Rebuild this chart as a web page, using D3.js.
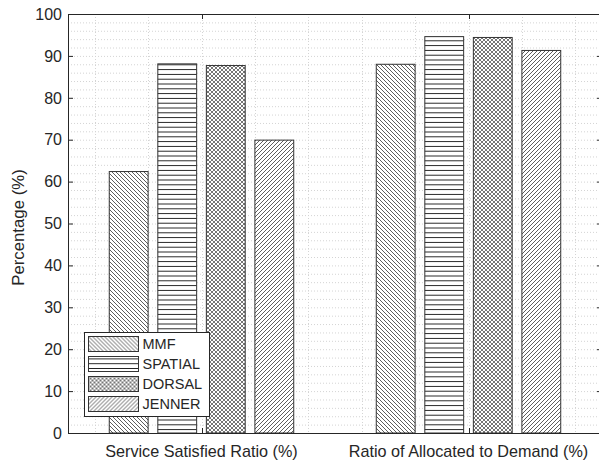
<!DOCTYPE html>
<html>
<head>
    <meta charset="utf-8">
    <title>Grouped Bar Chart</title>
    <script src="https://d3js.org/d3.v7.min.js"></script>
    <style>
        body { margin: 0; background: #fff; }
        text { font-family: "Liberation Sans", Arial, sans-serif; fill: #262626; }
    </style>
</head>
<body>
<svg width="599" height="463"></svg>
<script>
    const width = 599;
    const height = 463;

    // chart data
    const categories = ["Service Satisfied Ratio (%)", "Ratio of Allocated to Demand (%)"];
    const seriesNames = ["MMF", "SPATIAL", "DORSAL", "JENNER"];
    const mmfValues = [62.4, 88.0];
    const spatialValues = [88.1, 94.6];
    const dorsalValues = [87.7, 94.4];
    const jennerValues = [69.9, 91.3];
    const yTicks = [0, 10, 20, 30, 40, 50, 60, 70, 80, 90, 100];
    const yLabel = "Percentage (%)";

    const seriesValues = [mmfValues, spatialValues, dorsalValues, jennerValues];
    const patternIds = ["pMMF", "pSPATIAL", "pDORSAL", "pJENNER"];

    const svg = d3.select("svg");
    const margin = { left: 68, top: 14, right: 602, bottom: 433 };

    const x = d3.scaleLinear().domain([0.5, 2.5]).range([margin.left, margin.right]);
    const y = d3.scaleLinear().domain([0, 100]).range([margin.bottom, margin.top]);

    const defs = svg.append("defs");
    const clip = defs.append("clipPath").attr("id", "plotClip");
    clip.append("rect")
        .attr("x", margin.left).attr("y", margin.top)
        .attr("width", margin.right - margin.left).attr("height", margin.bottom - margin.top);

    const lineColor = "#333";

    // hatch patterns
    const pMMF = defs.append("pattern").attr("id", "pMMF")
        .attr("patternUnits", "userSpaceOnUse").attr("width", 4).attr("height", 4);
    pMMF.append("rect").attr("width", 4).attr("height", 4).attr("fill", "#fff");
    pMMF.append("path").attr("d", "M-1,-1 L5,5 M-1,3 L1,5 M3,-1 L5,1")
        .attr("stroke", lineColor).attr("stroke-width", 0.8);

    const pSpatial = defs.append("pattern").attr("id", "pSPATIAL")
        .attr("patternUnits", "userSpaceOnUse").attr("width", 4).attr("height", 4.8);
    pSpatial.append("rect").attr("width", 4).attr("height", 4.8).attr("fill", "#fff");
    pSpatial.append("path").attr("d", "M0,2.4 L4,2.4")
        .attr("stroke", "#222").attr("stroke-width", 1);

    const pDorsal = defs.append("pattern").attr("id", "pDORSAL")
        .attr("patternUnits", "userSpaceOnUse").attr("width", 4).attr("height", 4);
    pDorsal.append("rect").attr("width", 4).attr("height", 4).attr("fill", "#fff");
    pDorsal.append("path").attr("d", "M-1,-1 L5,5 M-1,5 L5,-1 M-1,3 L1,5 M3,-1 L5,1 M-1,1 L1,-1 M3,5 L5,3")
        .attr("stroke", "#2a2a2a").attr("stroke-width", 0.65);

    const pJenner = defs.append("pattern").attr("id", "pJENNER")
        .attr("patternUnits", "userSpaceOnUse").attr("width", 4).attr("height", 4);
    pJenner.append("rect").attr("width", 4).attr("height", 4).attr("fill", "#fff");
    pJenner.append("path").attr("d", "M-1,5 L5,-1 M-1,1 L1,-1 M3,5 L5,3")
        .attr("stroke", lineColor).attr("stroke-width", 0.8);

    // grid (major and minor, dotted)
    const grid = svg.append("g").attr("clip-path", "url(#plotClip)");
    const yGrid = d3.range(0, 101, 2);
    const xGrid = d3.range(0.6, 2.5, 0.2);
    grid.selectAll("line.gy").data(yGrid).join("line")
        .attr("class", "gy")
        .attr("x1", margin.left).attr("x2", margin.right)
        .attr("y1", d => y(d) + 0.5).attr("y2", d => y(d) + 0.5)
        .attr("stroke", "#d4d4d4").attr("stroke-dasharray", "1,2");
    grid.selectAll("line.gx").data(xGrid).join("line")
        .attr("class", "gx")
        .attr("x1", d => Math.round(x(d)) + 0.5).attr("x2", d => Math.round(x(d)) + 0.5)
        .attr("y1", margin.top).attr("y2", margin.bottom)
        .attr("stroke", "#d4d4d4").attr("stroke-dasharray", "1,2");

    // bars, MATLAB style grouped layout
    const nSeries = seriesNames.length;
    const groupWidth = Math.min(0.8, nSeries / (nSeries + 1.5));
    const step = groupWidth / nSeries;
    const barW = step * 0.8;

    const barsG = svg.append("g");
    seriesValues.forEach((vals, si) => {
        const offset = (si - (nSeries - 1) / 2) * step;
        barsG.selectAll(`rect.s${si}`).data(vals).join("rect")
            .attr("class", `s${si}`)
            .attr("x", (d, i) => x(i + 1 + offset - barW / 2))
            .attr("width", x(barW) - x(0))
            .attr("y", d => y(d))
            .attr("height", d => y(0) - y(d))
            .attr("fill", `url(#${patternIds[si]})`)
            .attr("stroke", "#333").attr("stroke-width", 1);
    });

    // axes box
    const axisColor = "#262626";
    svg.append("path")
        .attr("d", `M${margin.left + 0.5},${margin.top + 0.5} L${margin.right},${margin.top + 0.5} M${margin.left + 0.5},${margin.top} L${margin.left + 0.5},${margin.bottom + 0.5} L${margin.right},${margin.bottom + 0.5}`)
        .attr("fill", "none").attr("stroke", axisColor).attr("stroke-width", 1);

    // y ticks (inward, both sides) and labels
    const yAxis = svg.append("g");
    yAxis.selectAll("line.tl").data(yTicks).join("line")
        .attr("class", "tl")
        .attr("x1", margin.left).attr("x2", margin.left + 5)
        .attr("y1", d => y(d) + 0.5).attr("y2", d => y(d) + 0.5)
        .attr("stroke", axisColor);
    yAxis.selectAll("line.tr").data(yTicks).join("line")
        .attr("class", "tr")
        .attr("x1", margin.right - 5).attr("x2", margin.right)
        .attr("y1", d => y(d) + 0.5).attr("y2", d => y(d) + 0.5)
        .attr("stroke", axisColor);
    yAxis.selectAll("text").data(yTicks).join("text")
        .attr("x", margin.left - 6)
        .attr("y", d => y(d))
        .attr("dy", "0.36em")
        .attr("text-anchor", "end")
        .attr("font-size", 16)
        .text(d => d);

    // x ticks (inward, top and bottom) and labels
    const xTicks = categories.map((c, i) => i + 1);
    svg.selectAll("line.xb").data(xTicks).join("line")
        .attr("class", "xb")
        .attr("x1", d => Math.round(x(d)) + 0.5).attr("x2", d => Math.round(x(d)) + 0.5)
        .attr("y1", margin.bottom).attr("y2", margin.bottom - 5)
        .attr("stroke", axisColor);
    svg.selectAll("line.xt").data(xTicks).join("line")
        .attr("class", "xt")
        .attr("x1", d => Math.round(x(d)) + 0.5).attr("x2", d => Math.round(x(d)) + 0.5)
        .attr("y1", margin.top).attr("y2", margin.top + 5)
        .attr("stroke", axisColor);
    svg.selectAll("text.xl").data(categories).join("text")
        .attr("class", "xl")
        .attr("x", (d, i) => x(i + 1))
        .attr("y", 457)
        .attr("text-anchor", "middle")
        .attr("font-size", 16.2)
        .text(d => d);

    svg.append("text")
        .attr("transform", `translate(24,${(margin.top + margin.bottom) / 2 + 4}) rotate(-90)`)
        .attr("text-anchor", "middle")
        .attr("font-size", 16.8)
        .text(yLabel);

    // legend
    const legend = svg.append("g");
    legend.append("rect")
        .attr("x", 84.5).attr("y", 332.5).attr("width", 125).attr("height", 84)
        .attr("fill", "#fff").attr("stroke", axisColor).attr("stroke-width", 1);
    const items = legend.selectAll("g.item").data(seriesNames).join("g")
        .attr("class", "item")
        .attr("transform", (d, i) => `translate(88.5,${336.5 + i * 20})`);
    items.append("rect")
        .attr("width", 50).attr("height", 15)
        .attr("fill", (d, i) => `url(#${patternIds[i]})`)
        .attr("stroke", "#333");
    items.append("text")
        .attr("x", 54).attr("y", 7.5).attr("dy", "0.36em")
        .attr("font-size", 14.5)
        .text(d => d);
</script>
</body>
</html>
